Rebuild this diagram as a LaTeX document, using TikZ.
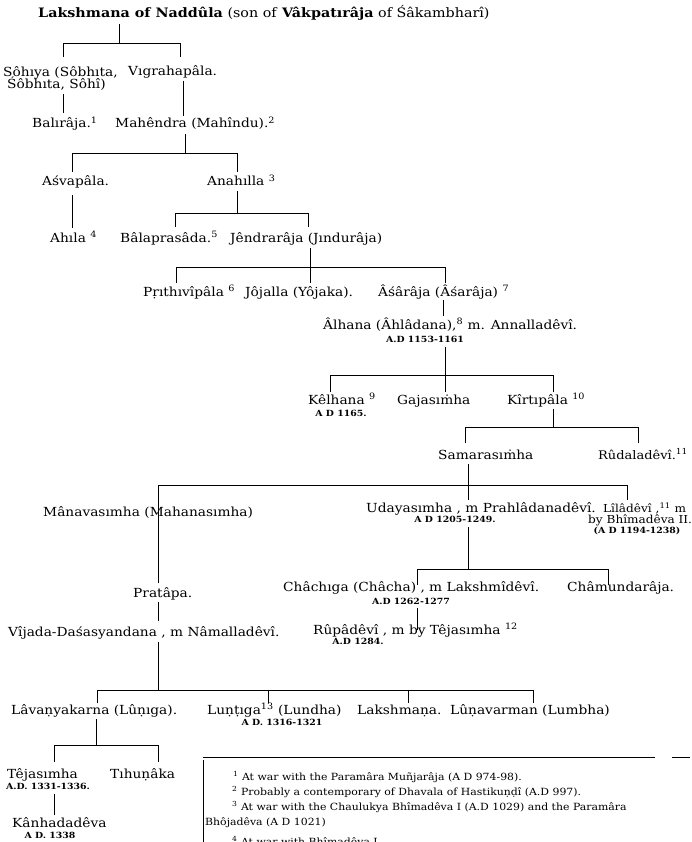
\documentclass[tikz,border=0pt]{standalone}
\usepackage{fontspec}
\setmainfont{DejaVu Serif}[FakeStretch=1.1]
\begin{document}
\begin{tikzpicture}[x=1pt,y=-1pt,
  nm/.style={anchor=base west,inner sep=0pt,font=\fontsize{12.5}{14}\selectfont},
  nms/.style={anchor=base west,inner sep=0pt,font=\fontsize{11}{13}\selectfont},
  dt/.style={anchor=base,inner sep=0pt,font=\fontsize{8.5}{10}\selectfont\bfseries},
  fn/.style={anchor=base west,inner sep=0pt,font=\fontsize{9.9}{11}\selectfont},
  ln/.style={line width=0.8pt,black}]
\fill[white] (0,0) rectangle (691,842);
\useasboundingbox (0,0) rectangle (691,842);
% ---- names
\node[nm,font=\fontsize{13}{14}\selectfont] (title) at (38,18) {\textbf{Lakshmana of Naddûla} (son of \textbf{Vâkpatırâja} of Śâkambharî)};
\node[nm] (sohiya) at (3,77) {Sôhıya (Sôbhıta,};
\node[nm] (sohiyb) at (7,89) {Śôbhıta, Sôhî)};
\node[nm] (vigraha) at (128,76) {Vıgrahapâla.};
\node[nm] (bali) at (32,128) {Balırâja.\textsuperscript{1}};
\node[nm] (mahendra) at (115,128) {Mahêndra (Mahîndu).\textsuperscript{2}};
\node[nm] (asva) at (42,186) {Aśvapâla.};
\node[nm] (anahilla) at (207,186) {Anahılla \textsuperscript{3}};
\node[nm] (ahila) at (50,242) {Ahıla \textsuperscript{4}};
\node[nm] (bala) at (120,242) {Bâlaprasâda.\textsuperscript{5}};
\node[nm] (jendra) at (230,242) {Jêndrarâja (Jındurâja)};
\node[nm] (prithivi) at (143,296) {Pṛıthıvîpâla \textsuperscript{6}};
\node[nm] (jojalla) at (245,296) {Jôjalla (Yôjaka).};
\node[nm] (asaraja) at (378,296) {Âśârâja (Âśarâja) \textsuperscript{7}};
\node[nm] (alhana) at (323,329) {Âlhana (Âhlâdana),\textsuperscript{8} m. Annalladêvî.};
\node[dt] (alhanad) at (425,342) {A.D 1153-1161};
\node[nm] (kelhana) at (308,404) {Kêlhana \textsuperscript{9}};
\node[dt] (kelhanad) at (341,416) {A D 1165.};
\node[nm] (gaja) at (397,404) {Gajasıṁha};
\node[nm] (kirti) at (507,404) {Kîrtıpâla \textsuperscript{10}};
\node[nm] (samara) at (438,459) {Samarasıṁha};
\node[nm,font=\fontsize{11.8}{13}\selectfont] (rudala) at (598,459) {Rûdaladêvî.\textsuperscript{11}};
\node[nm] (manava) at (43,516) {Mânavasımha (Mahanasımha)};
\node[nm] (udaya) at (366,512) {Udayasımha , m Prahlâdanadêvî.};
\node[dt] (udayad) at (455,522) {A D 1205-1249.};
\node[nms] (lila) at (603,512) {Lîlâdêvî ,\textsuperscript{11} m};
\node[nms] (bhima) at (588,523) {by Bhîmadêva II.};
\node[dt] (bhimad) at (637,533) {(A D 1194-1238)};
\node[nm] (chachiga) at (283,591) {Châchıga (Châcha) , m Lakshmîdêvî.};
\node[dt] (chachigad) at (411,604) {A.D 1262-1277};
\node[nm] (chamunda) at (567,591) {Châmundarâja.};
\node[nm] (pratapa) at (133,597) {Pratâpa.};
\node[nm] (vijada) at (8,636) {Vîjada-Daśasyandana , m Nâmalladêvî.};
\node[nm] (rupa) at (313,634) {Rûpâdêvî , m by Têjasımha \textsuperscript{12}};
\node[dt] (rupad) at (358,644) {A.D 1284.};
\node[nm] (lavanya) at (11,714) {Lâvaṇyakarna (Lûṇıga).};
\node[nm] (luntiga) at (207,714) {Luṇṭıga\textsuperscript{13} (Lundha)};
\node[dt] (luntigad) at (282,725) {A D. 1316-1321};
\node[nm] (lakshmana) at (357,714) {Lakshmaṇa.};
\node[nm] (lunavarman) at (450,714) {Lûṇavarman (Lumbha)};
\node[nm] (tejas) at (7,778) {Têjasımha};
\node[dt] (tejasd) at (48,789) {A.D. 1331-1336.};
\node[nm] (tihunaka) at (110,778) {Tıhuṇâka};
\node[nm] (kanha) at (12,827) {Kânhadadêva};
\node[dt] (kanhad) at (50,838) {A D. 1338};
% ---- footnotes
\node[fn] (fn1) at (233,780) {\textsuperscript{1} At war with the Paramâra Muñjarâja (A D 974-98).};
\node[fn] (fn2) at (232,795) {\textsuperscript{2} Probably a contemporary of Dhavala of Hastikuṇḍî (A.D 997).};
\node[fn] (fn3) at (232,810) {\textsuperscript{3} At war with the Chaulukya Bhîmadêva I (A.D 1029) and the Paramâra};
\node[fn] (fn4) at (205,825) {Bhôjadêva (A D 1021)};
\node[fn] (fn5) at (232,845) {\textsuperscript{4} At war with Bhîmadêva I.};
\draw[ln] (203,757) -- (655,757);
\draw[ln] (672,757) -- (690,757);
\draw[ln] (203,760) -- (203,842);
% ---- connectors
\draw[ln] (119,24) -- (119,43);
\draw[ln] (63,57) |- (180,43) -- (180,57);
\draw[ln] (63,94) -- (63,113);
\draw[ln] (183,81) -- (183,116);
\draw[ln] (185,134) -- (185,153);
\draw[ln] (72,172) |- (237,153) -- (237,172);
\draw[ln] (72,195) -- (72,228);
\draw[ln] (237,191) -- (237,213);
\draw[ln] (175,227) |- (308,213) -- (308,227);
\draw[ln] (310,248) -- (310,283);
\draw[ln] (176,283) |- (445,267) -- (445,283);
\draw[ln] (443,300) -- (443,316);
\draw[ln] (445,347) -- (445,392);
\draw[ln] (330,392) |- (553,375) -- (553,392);
\draw[ln] (553,409) -- (553,427);
\draw[ln] (465,443) |- (638,427) -- (638,443);
\draw[ln] (468,464) -- (468,500);
\draw[ln] (158,583) |- (627,485) -- (627,500);
\draw[ln] (468,527) -- (468,569);
\draw[ln] (417,585) |- (608,569) -- (608,585);
\draw[ln] (417,608) -- (417,630);
\draw[ln] (158,602) -- (158,621);
\draw[ln] (158,642) -- (158,690);
\draw[ln] (97,703) |- (533,690) -- (533,703);
\draw[ln] (268,690) -- (268,703);
\draw[ln] (408,690) -- (408,703);
\draw[ln] (96,719) -- (96,745);
\draw[ln] (54,762) |- (158,745) -- (158,762);
\draw[ln] (54,794) -- (54,815);
\end{tikzpicture}
\end{document}
